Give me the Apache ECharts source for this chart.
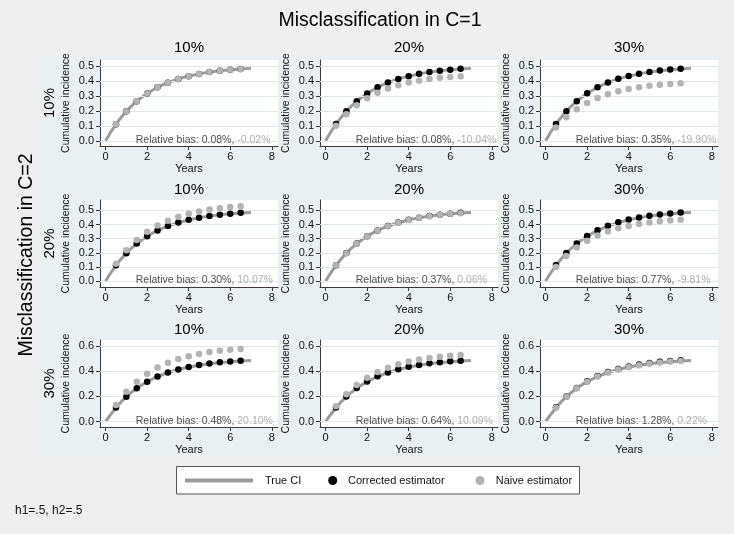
<!DOCTYPE html>
<html><head><meta charset="utf-8">
<script src="https://cdn.jsdelivr.net/npm/echarts@6/dist/echarts.min.js"></script>
<style>html,body{margin:0;padding:0;background:#efefef}#c{width:734px;height:534px}</style>
</head><body><div id="c"></div>
<script>
// ---------- data ----------
const colLabels = ['10%', '20%', '30%'];   // misclassification in C=1
const rowLabels = ['10%', '20%', '30%'];   // misclassification in C=2
const xTicks = [0, 2, 4, 6, 8];
const yTicksSmall = [0, 0.1, 0.2, 0.3, 0.4, 0.5];
const yTicksLarge = [0, 0.2, 0.4, 0.6];

const trueTimes = [0, 0.5, 1, 1.5, 2, 2.5, 3, 3.5, 4, 4.5, 5, 5.5, 6, 6.5, 7];
const trueCI    = [0, 0.111, 0.197, 0.264, 0.316, 0.357, 0.388, 0.413, 0.432, 0.447, 0.459, 0.468, 0.475, 0.480, 0.484];

const estTimes = [0.5, 1, 1.5, 2, 2.5, 3, 3.5, 4, 4.5, 5, 5.5, 6, 6.5];

const corrected_r1c1 = [0.111, 0.197, 0.264, 0.316, 0.357, 0.388, 0.413, 0.432, 0.447, 0.459, 0.468, 0.475, 0.480];
const corrected_r1c2 = [0.112, 0.197, 0.264, 0.316, 0.357, 0.389, 0.413, 0.432, 0.448, 0.459, 0.468, 0.475, 0.481];
const corrected_r1c3 = [0.112, 0.198, 0.265, 0.317, 0.358, 0.389, 0.414, 0.433, 0.448, 0.460, 0.469, 0.476, 0.481];
const corrected_r2c1 = [0.112, 0.197, 0.265, 0.317, 0.358, 0.389, 0.414, 0.433, 0.448, 0.460, 0.469, 0.476, 0.482];
const corrected_r2c2 = [0.112, 0.198, 0.265, 0.317, 0.358, 0.389, 0.414, 0.433, 0.448, 0.460, 0.469, 0.476, 0.482];
const corrected_r2c3 = [0.113, 0.199, 0.266, 0.318, 0.359, 0.391, 0.416, 0.435, 0.450, 0.462, 0.471, 0.478, 0.484];
const corrected_r3c1 = [0.112, 0.198, 0.265, 0.317, 0.358, 0.389, 0.414, 0.434, 0.449, 0.461, 0.470, 0.477, 0.482];
const corrected_r3c2 = [0.112, 0.199, 0.266, 0.318, 0.359, 0.390, 0.415, 0.435, 0.450, 0.462, 0.471, 0.478, 0.483];
const corrected_r3c3 = [0.114, 0.200, 0.267, 0.320, 0.361, 0.393, 0.418, 0.437, 0.453, 0.465, 0.474, 0.481, 0.487];

const naive_r1c1 = [0.111, 0.197, 0.264, 0.316, 0.357, 0.388, 0.413, 0.432, 0.447, 0.459, 0.468, 0.474, 0.479];
const naive_r1c2 = [0.100, 0.177, 0.238, 0.284, 0.321, 0.349, 0.372, 0.389, 0.402, 0.413, 0.421, 0.427, 0.432];
const naive_r1c3 = [0.089, 0.158, 0.211, 0.253, 0.286, 0.311, 0.331, 0.346, 0.358, 0.368, 0.375, 0.380, 0.384];
const naive_r2c1 = [0.122, 0.217, 0.290, 0.348, 0.393, 0.427, 0.455, 0.476, 0.492, 0.505, 0.515, 0.523, 0.528];
const naive_r2c2 = [0.111, 0.197, 0.264, 0.316, 0.357, 0.388, 0.413, 0.432, 0.447, 0.459, 0.468, 0.475, 0.480];
const naive_r2c3 = [0.100, 0.178, 0.238, 0.285, 0.322, 0.350, 0.373, 0.390, 0.403, 0.414, 0.422, 0.428, 0.433];
const naive_r3c1 = [0.133, 0.237, 0.317, 0.380, 0.429, 0.466, 0.496, 0.519, 0.537, 0.551, 0.562, 0.570, 0.576];
const naive_r3c2 = [0.122, 0.217, 0.291, 0.348, 0.393, 0.428, 0.455, 0.476, 0.492, 0.505, 0.515, 0.523, 0.528];
const naive_r3c3 = [0.111, 0.198, 0.265, 0.317, 0.358, 0.389, 0.414, 0.433, 0.448, 0.460, 0.469, 0.476, 0.481];

const biasCorrected = ['0.08%', '0.08%', '0.35%', '0.30%', '0.37%', '0.77%', '0.48%', '0.64%', '1.28%'];
const biasNaive     = ['-0.02%', '-10.04%', '-19.90%', '10.07%', '0.06%', '-9.81%', '20.10%', '10.09%', '0.22%'];
const biasLabelPos  = [1.45, 0.006];

const correctedList = [corrected_r1c1, corrected_r1c2, corrected_r1c3, corrected_r2c1, corrected_r2c2, corrected_r2c3, corrected_r3c1, corrected_r3c2, corrected_r3c3];
const naiveList = [naive_r1c1, naive_r1c2, naive_r1c3, naive_r2c1, naive_r2c2, naive_r2c3, naive_r3c1, naive_r3c2, naive_r3c3];

// ---------- layout ----------
const FONT = 'Liberation Sans, Arial, Helvetica, sans-serif';
const colLeft = [100, 320, 540];
const gridW = 178;
const rowTop = [60, 200, 340];
const rowH = [86, 87, 87];
const yRange = [[-0.035, 0.54], [-0.042, 0.573], [-0.042, 0.647]];
const xRange = [-0.27, 8.3];
const rowTicks = [yTicksSmall, yTicksSmall, yTicksLarge];
const AXIS = '#3a3a3a';
const LINE_C = '#9b9b9b';
const NAIVE_C = '#b3b3b3';

const grids = [], xAxes = [], yAxes = [], series = [];
for (let r = 0; r < 3; r++) {
  for (let c = 0; c < 3; c++) {
    const i = r * 3 + c;
    grids.push({left: colLeft[c], top: rowTop[r], width: gridW, height: rowH[r],
      show: true, backgroundColor: '#ffffff', borderWidth: 0, containLabel: false, outerBoundsMode: 'none'});
    xAxes.push({type: 'value', gridIndex: i, min: xRange[0], max: xRange[1],
      name: 'Years', nameLocation: 'middle', nameGap: 17,
      nameTextStyle: {fontFamily: FONT, fontSize: 11, color: '#111'},
      axisLine: {show: true, onZero: false, lineStyle: {color: AXIS, width: 1}},
      axisTick: {show: true, length: 4, customValues: xTicks, lineStyle: {color: AXIS}},
      axisLabel: {customValues: xTicks, margin: 5, fontFamily: FONT, fontSize: 11, color: '#111',
        formatter: v => String(v)},
      splitLine: {show: false}});
    yAxes.push({type: 'value', gridIndex: i, min: yRange[r][0], max: yRange[r][1],
      name: 'Cumulative incidence', nameLocation: 'middle', nameGap: 28,
      nameTextStyle: {fontFamily: FONT, fontSize: 10.5, color: '#111'},
      axisLine: {show: true, onZero: false, lineStyle: {color: AXIS, width: 1}},
      axisTick: {show: true, length: 4, customValues: rowTicks[r], lineStyle: {color: AXIS}},
      axisLabel: {customValues: rowTicks[r], margin: 6, fontFamily: FONT, fontSize: 11, color: '#111',
        formatter: v => v.toFixed(1)},
      splitLine: {show: false}});
    series.push({type: 'line', xAxisIndex: i, yAxisIndex: i, data: [], silent: true, z: 1,
      markLine: {silent: true, symbol: ['none', 'none'], label: {show: false}, animation: false,
        lineStyle: {color: '#e2e7e9', width: 1, type: 'solid'},
        emphasis: {disabled: true},
        data: rowTicks[r].map(v => ({yAxis: v}))}});
    series.push({name: 'True CI', type: 'line', xAxisIndex: i, yAxisIndex: i, smooth: true,
      showSymbol: false, symbol: 'none', z: 2, lineStyle: {color: LINE_C, width: 3}, itemStyle: {color: LINE_C},
      emphasis: {disabled: true},
      data: trueTimes.map((t, k) => [t, trueCI[k]])});
    series.push({name: 'Corrected estimator', type: 'scatter', xAxisIndex: i, yAxisIndex: i, z: 6,
      symbol: 'circle', symbolSize: 6.5, itemStyle: {color: '#000000', opacity: 1, borderWidth: 0},
      emphasis: {disabled: true},
      data: estTimes.map((t, k) => [t, correctedList[i][k]])});
    series.push({name: 'Naive estimator', type: 'scatter', xAxisIndex: i, yAxisIndex: i, z: 7,
      symbol: 'circle', symbolSize: 6.5, itemStyle: {color: NAIVE_C, opacity: 1, borderWidth: 0},
      emphasis: {disabled: true},
      data: estTimes.map((t, k) => [t, naiveList[i][k]])});
    series.push({type: 'scatter', xAxisIndex: i, yAxisIndex: i, z: 8, silent: true, symbolSize: 0,
      data: [biasLabelPos],
      label: {show: true, position: 'right', distance: 0,
        formatter: '{a|Relative bias: ' + biasCorrected[i] + ', }{b|' + biasNaive[i] + '}',
        rich: {a: {fontFamily: FONT, fontSize: 10.5, color: '#222'},
               b: {fontFamily: FONT, fontSize: 10.5, color: '#9c9c9c'}}}});
  }
}

const graphic = [
  {type: 'rect', z: -100, silent: true, shape: {x: 40, y: 56, width: 680, height: 400}, style: {fill: '#eaf0f2'}},
  {type: 'text', x: 380, y: 21, style: {text: 'Misclassification in C=1', fontFamily: FONT, fontSize: 19.5,
    fill: '#000', align: 'center', verticalAlign: 'middle'}},
  {type: 'text', x: 27, y: 255, rotation: Math.PI / 2, style: {text: 'Misclassification in C=2', fontFamily: FONT,
    fontSize: 19.5, fill: '#000', align: 'center', verticalAlign: 'middle'}},
  {type: 'text', x: 15, y: 511, style: {text: 'h1=.5, h2=.5', fontFamily: FONT, fontSize: 12, fill: '#111',
    align: 'left', verticalAlign: 'middle'}},
  // legend
  {type: 'rect', shape: {x: 176.5, y: 466.5, width: 403, height: 27.5}, style: {fill: '#fff', stroke: '#555', lineWidth: 1}},
  {type: 'line', shape: {x1: 185, y1: 480.5, x2: 253, y2: 480.5}, style: {stroke: LINE_C, lineWidth: 4}},
  {type: 'text', x: 265, y: 480.5, style: {text: 'True CI', fontFamily: FONT, fontSize: 11, fill: '#111', verticalAlign: 'middle'}},
  {type: 'circle', shape: {cx: 332.7, cy: 480.5, r: 4.5}, style: {fill: '#000'}},
  {type: 'text', x: 348, y: 480.5, style: {text: 'Corrected estimator', fontFamily: FONT, fontSize: 11, fill: '#111', verticalAlign: 'middle'}},
  {type: 'circle', shape: {cx: 480, cy: 480.5, r: 4.5}, style: {fill: NAIVE_C}},
  {type: 'text', x: 495.7, y: 480.5, style: {text: 'Naive estimator', fontFamily: FONT, fontSize: 11, fill: '#111', verticalAlign: 'middle'}}
];
const titleY = [48, 190, 330];
for (let r = 0; r < 3; r++) {
  for (let c = 0; c < 3; c++) {
    graphic.push({type: 'text', x: colLeft[c] + gridW / 2, y: titleY[r], style: {text: colLabels[c], fontFamily: FONT,
      fontSize: 15, fill: '#000', align: 'center', verticalAlign: 'middle'}});
  }
  graphic.push({type: 'text', x: 50, y: rowTop[r] + rowH[r] / 2, rotation: Math.PI / 2, style: {text: rowLabels[r],
    fontFamily: FONT, fontSize: 15, fill: '#000', align: 'center', verticalAlign: 'middle'}});
}

const chart = echarts.init(document.getElementById('c'), null, {renderer: 'canvas'});
chart.setOption({
  backgroundColor: '#efefef',
  animation: false,
  grid: grids, xAxis: xAxes, yAxis: yAxes, series: series, graphic: graphic
});
</script></body></html>
